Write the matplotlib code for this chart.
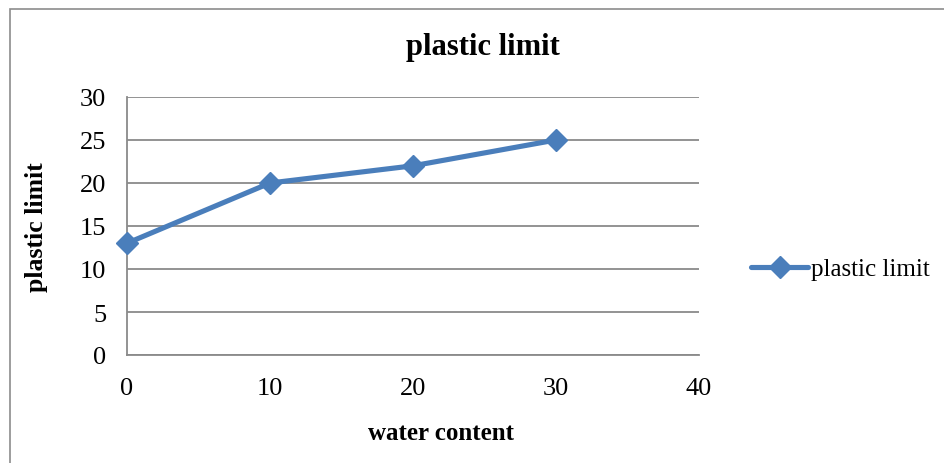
import matplotlib.pyplot as plt
from matplotlib.patches import Rectangle

water_content = [0, 10, 20, 30]
plastic_limit = [13, 20, 22, 25]
x_ticks = [0, 10, 20, 30, 40]
y_ticks = [0, 5, 10, 15, 20, 25, 30]

plt.rcParams['font.family'] = ['Liberation Serif', 'DejaVu Serif']

W, H = 945, 464
fig = plt.figure(figsize=(W / 100, H / 100), dpi=100)

# outer chart border (cut off at right/bottom like the reference)
fig.patches.append(Rectangle((10 / W, -0.1), 1.2, 1.1 - 10 / H, transform=fig.transFigure,
                             fill=False, edgecolor='#8c8c8c', linewidth=1.2))

ax = fig.add_axes([127 / W, 1 - 356 / H, (699 - 127) / W, (356 - 98) / H])
ax.plot(water_content, plastic_limit, color='#4a7ebb', linewidth=3.7,
        marker='D', markersize=11.5, label='plastic limit', clip_on=False, zorder=3,
        solid_capstyle='round', solid_joinstyle='round')

ax.set_xlim(0, 40)
ax.set_ylim(0, 30)
ax.set_xticks(x_ticks)
ax.set_yticks(y_ticks)
ax.tick_params(axis='both', length=0, labelsize=19)
ax.tick_params(axis='x', pad=16)
ax.tick_params(axis='y', pad=15)
ax.grid(axis='y', color='#8a8a8a', linewidth=1.3)
ax.set_axisbelow(True)
for s in ['top', 'right']:
    ax.spines[s].set_visible(False)
for s in ['left', 'bottom']:
    ax.spines[s].set_color('#8a8a8a')
    ax.spines[s].set_linewidth(1.3)

fig.text(483 / W, 1 - 48 / H, 'plastic limit', ha='center', va='center',
         fontsize=22, fontweight='bold')
fig.text(441 / W, 1 - 434 / H, 'water content', ha='center', va='center',
         fontsize=18, fontweight='bold')
fig.text(37 / W, 1 - 227 / H, 'plastic limit', ha='center', va='center',
         fontsize=18.5, fontweight='bold', rotation=90)

leg = ax.legend(loc='center left', bbox_to_anchor=(751 / W, 1 - 270 / H),
                bbox_transform=fig.transFigure, frameon=False, fontsize=18,
                handlelength=2.3, handletextpad=0.1, borderpad=0, borderaxespad=0)

fig.savefig('out.png', dpi=100)
